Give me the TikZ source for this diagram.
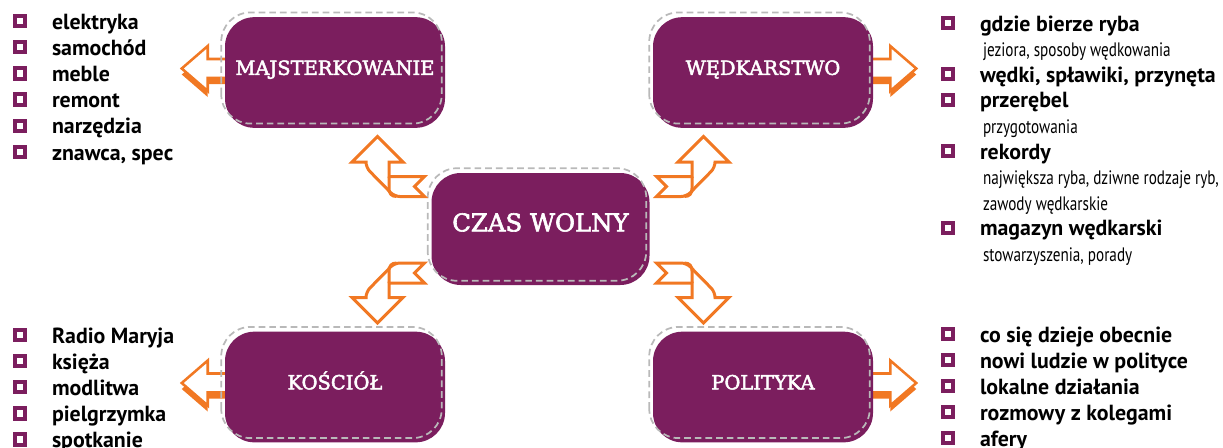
\documentclass[tikz,border=0pt]{standalone}
\usepackage{fontspec}
\setmainfont{PT Sans}
\newfontfamily\titlefont[FakeBold=2.5]{DejaVu Serif}
\newfontfamily\notefont[FakeStretch=0.78]{PT Sans}
\usetikzlibrary{positioning, backgrounds}

\definecolor{plum}{RGB}{123,30,94}
\definecolor{ribbon}{RGB}{241,120,35}
\definecolor{dashgray}{RGB}{185,185,185}

\tikzset{
  bend arrow/.pic={
    \draw[ribbon, line width=2.25pt, fill=white] (0,0) -- (25.5,25.5) -- (11.5,25.5) -- (11.5,40)
      -- (47,40) -- (37,50) -- (47,60) [rounded corners=4pt] -- (17,60) -- (-11.5,31)
      [sharp corners] -- (-11.5,25.5) -- (-25.5,25.5) -- cycle;
    \draw[ribbon, line width=2.25pt] (11.5,40) -- (11.5,52) .. controls (11.5,57) and (14,60) .. (19,60);
  },
  side arrow/.pic={
    \fill[ribbon] (-8,-3.5) -- (17,-3.5) -- (17,-16.5) -- (43,6) -- (17,28.5) -- (17,15.5) -- (-8,15.5) -- cycle;
    \draw[ribbon, line width=1.9pt, fill=white] (-8,-9.5) -- (17,-9.5) -- (17,-22.5) -- (43,0) -- (17,22.5) -- (17,9.5) -- (-8,9.5) -- cycle;
  }
}

\begin{document}
\begin{tikzpicture}[x=0.75pt, y=-0.75pt,
    box/.style={fill=plum, text=white, rounded corners=22pt, minimum width=165pt,
      minimum height=83pt, inner sep=0pt, text height=11pt, text depth=7.5pt,
      font=\titlefont\fontsize{14.6}{16}\selectfont},
    dashbox/.style={draw=dashgray, line width=1.3pt, dash pattern=on 5pt off 3pt, rounded corners=22pt},
    bullet/.style={draw=plum, fill=white, line width=3pt, minimum size=7.8pt, inner sep=0pt, outer sep=0pt},
    item/.style={anchor=west, inner sep=0pt, outer sep=0pt, text height=14pt, text depth=2pt,
      font=\bfseries\fontsize{16.4}{19}\selectfont, label={[bullet, label distance=20pt]left:{}}},
    note/.style={anchor=west, inner xsep=2.25pt, inner ysep=0pt, outer sep=0pt, text height=14pt,
      text depth=2pt, font=\notefont\fontsize{14.6}{16}\selectfont}]
  \useasboundingbox (0,0) rectangle (1223,447);

  % boxes
  \node[box] (maj) at (335,72.5) {MAJSTERKOWANIE};
  \node[box] (wed) at (763,72.5) {WĘDKARSTWO};
  \node[box, minimum width=163.5pt, minimum height=84pt,
    font=\titlefont\fontsize{18.3}{20}\selectfont] (czas) at (540.5,229) {CZAS WOLNY};
  \node[box] (kos) at (335,387) {KOŚCIÓŁ};
  \node[box] (pol) at (763,387) {POLITYKA};

  \draw[dashbox] ([shift={(-3.5,-4.5)}]maj.south west) rectangle ([shift={(-3.5,-4.5)}]maj.north east);
  \draw[dashbox] ([shift={(-3.5,-4.5)}]wed.south west) rectangle ([shift={(-3.5,-4.5)}]wed.north east);
  \draw[dashbox] ([shift={(-3.5,-4.5)}]czas.south west) rectangle ([shift={(-3.5,-4.5)}]czas.north east);
  \draw[dashbox] ([shift={(-3.5,-4.5)}]kos.south west) rectangle ([shift={(-3.5,-4.5)}]kos.north east);
  \draw[dashbox] ([shift={(-3.5,-4.5)}]pol.south west) rectangle ([shift={(-3.5,-4.5)}]pol.north east);

  % arrows
  \begin{scope}[on background layer]
    \pic[xscale=-1] at ([yshift=3pt]maj.west) {side arrow};
    \pic at ([yshift=3pt]wed.east) {side arrow};
    \pic[xscale=-1] at ([yshift=3pt]kos.west) {side arrow};
    \pic at ([yshift=3pt]pol.east) {side arrow};
  \end{scope}
  \pic at ([shift={(-163,-92.5)}]czas.center) {bend arrow};
  \pic[xscale=-1] at ([shift={(163,-92.5)}]czas.center) {bend arrow};
  \pic[yscale=-1] at ([shift={(-163,94)}]czas.center) {bend arrow};
  \pic[xscale=-1, yscale=-1] at ([shift={(163,94)}]czas.center) {bend arrow};

  % lists
  \node[item] (maj1) at (52,21) {elektryka};
  \node[item] (maj2) at ([yshift=-19.65pt]maj1.west) {samochód};
  \node[item] (maj3) at ([yshift=-19.65pt]maj2.west) {meble};
  \node[item] (maj4) at ([yshift=-19.65pt]maj3.west) {remont};
  \node[item] (maj5) at ([yshift=-19.65pt]maj4.west) {narzędzia};
  \node[item] (maj6) at ([yshift=-19.65pt]maj5.west) {znawca, spec};

  \node[item] (wed1) at (980,23) {gdzie bierze ryba};
  \node[note] (wed2) at ([yshift=-19.2pt]wed1.west) {jeziora, sposoby wędkowania};
  \node[item] (wed3) at ([yshift=-19.2pt]wed2.west) {wędki, spławiki, przynęta};
  \node[item] (wed4) at ([yshift=-19.2pt]wed3.west) {przerębel};
  \node[note] (wed5) at ([yshift=-19.2pt]wed4.west) {przygotowania};
  \node[item] (wed6) at ([yshift=-19.2pt]wed5.west) {rekordy};
  \node[note] (wed7) at ([yshift=-19.2pt]wed6.west) {największa ryba, dziwne rodzaje ryb,};
  \node[note] (wed8) at ([yshift=-19.2pt]wed7.west) {zawody wędkarskie};
  \node[item] (wed9) at ([yshift=-19.2pt]wed8.west) {magazyn wędkarski};
  \node[note] (wed10) at ([yshift=-19.2pt]wed9.west) {stowarzyszenia, porady};

  \node[item] (kos1) at (52,335) {Radio Maryja};
  \node[item] (kos2) at ([yshift=-19.6pt]kos1.west) {księża};
  \node[item] (kos3) at ([yshift=-19.6pt]kos2.west) {modlitwa};
  \node[item] (kos4) at ([yshift=-19.6pt]kos3.west) {pielgrzymka};
  \node[item] (kos5) at ([yshift=-19.6pt]kos4.west) {spotkanie};

  \node[item] (pol1) at (980,334) {co się dzieje obecnie};
  \node[item] (pol2) at ([yshift=-19.5pt]pol1.west) {nowi ludzie w polityce};
  \node[item] (pol3) at ([yshift=-19.5pt]pol2.west) {lokalne działania};
  \node[item] (pol4) at ([yshift=-19.5pt]pol3.west) {rozmowy z kolegami};
  \node[item] (pol5) at ([yshift=-19.5pt]pol4.west) {afery};
\end{tikzpicture}
\end{document}
